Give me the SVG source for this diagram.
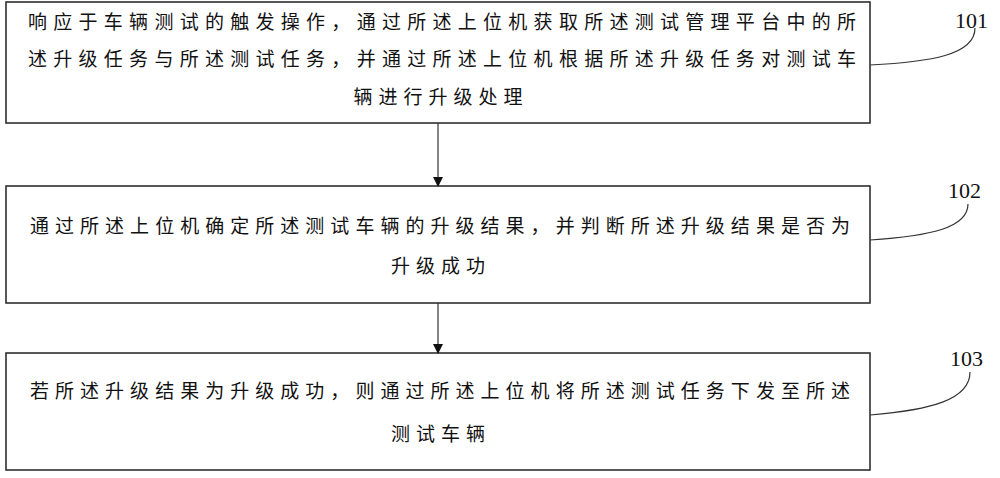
<svg xmlns="http://www.w3.org/2000/svg" width="1000" height="478" viewBox="0 0 1000 478">
<style>
.b{fill:#fff;stroke:#222;stroke-width:1.5}
.t{font-family:"Noto Sans CJK SC","Noto Sans CJK JP",sans-serif;font-size:19px;fill:#111;text-anchor:middle;letter-spacing:6px}
.n{font-family:"Liberation Serif",serif;font-size:22px;fill:#111}
.c{fill:none;stroke:#333;stroke-width:1.2}
</style>
<defs><marker id="a" markerWidth="10" markerHeight="10" refX="9" refY="5" orient="auto" markerUnits="userSpaceOnUse"><path d="M0,0L10,5L0,10z" fill="#111"/></marker></defs>
<g id="n1"><rect class="b" x="6" y="2" width="864" height="121"/>
<text class="t" x="445" y="29" textLength="834">响应于车辆测试的触发操作，通过所述上位机获取所述测试管理平台中的所</text>
<text class="t" x="445" y="66" textLength="834">述升级任务与所述测试任务，并通过所述上位机根据所述升级任务对测试车</text>
<text class="t" x="441" y="104">辆进行升级处理</text></g>
<g id="n2"><rect class="b" x="6" y="186" width="864" height="117"/>
<text class="t" x="443" y="233" textLength="826">通过所述上位机确定所述测试车辆的升级结果，并判断所述升级结果是否为</text>
<text class="t" x="441" y="273">升级成功</text></g>
<g id="n3"><rect class="b" x="6" y="353" width="864" height="117"/>
<text class="t" x="443" y="398" textLength="826">若所述升级结果为升级成功，则通过所述上位机将所述测试任务下发至所述</text>
<text class="t" x="441" y="441">测试车辆</text></g>
<g id="labels"><text class="n" x="955" y="28">101</text><text class="n" x="948" y="198">102</text><text class="n" x="950" y="366">103</text></g>
<g id="connectors">
<line class="c" x1="438" y1="123" x2="438" y2="186" marker-end="url(#a)"/>
<line class="c" x1="438" y1="303" x2="438" y2="353" marker-end="url(#a)"/>
<path class="c" d="M870,65C930,62 975,55 975,28"/>
<path class="c" d="M870,240C930,236 968,228 968,204"/>
<path class="c" d="M870,415C930,410 970,400 970,372"/>
</g>
</svg>
